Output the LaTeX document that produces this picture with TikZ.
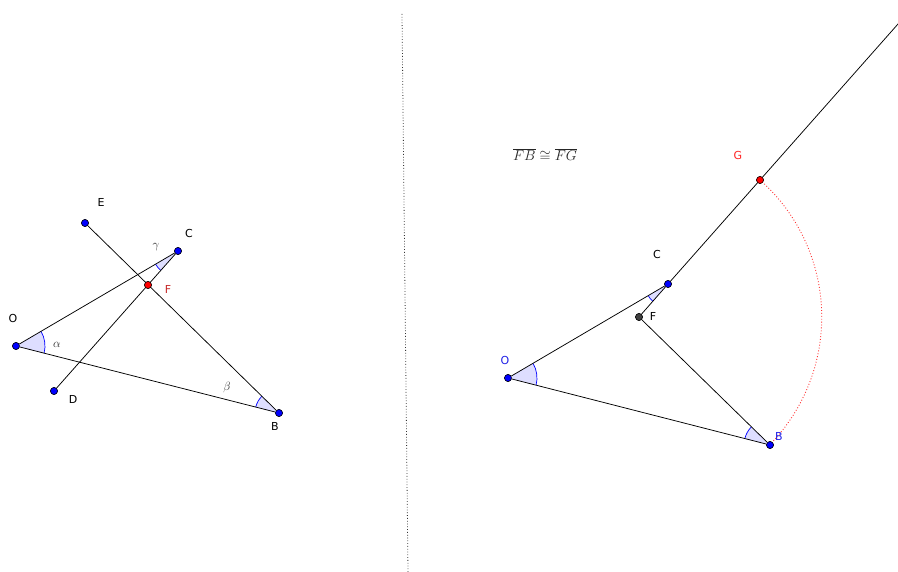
\documentclass[tikz,border=0pt]{standalone}
\usepackage{fontspec}
\newfontfamily\labelfont{DejaVu Sans}
\usepackage{tikz}
\usetikzlibrary{angles,calc}
\definecolor{ggblue}{HTML}{0000FF}
\definecolor{ggred}{HTML}{FF0000}
\definecolor{ggdark}{HTML}{404040}
\definecolor{lblred}{HTML}{C62828}
\definecolor{lblblue}{HTML}{1E1EE6}
\tikzset{
  bluept/.style={circle, draw=black, line width=0.5pt, fill=ggblue, inner sep=0pt, minimum size=7pt},
  redpt/.style={bluept, fill=ggred},
  darkpt/.style={bluept, fill=ggdark},
  seg/.style={draw=black, line width=0.75pt},
  lbl/.style={font=\labelfont\fontsize{11}{13}\selectfont, text=black, inner sep=0pt},
  greek/.style={font=\fontsize{13}{15}\selectfont, text=black!85, inner sep=0pt},
  anglemark/.style={draw=ggblue, fill=ggblue!13, line width=0.7pt},
  divider/.style={draw=black!80, dotted, line width=0.8pt},
  arcdot/.style={draw=ggred!80, dotted, line width=0.9pt},
}
\begin{document}
\begin{tikzpicture}[x=1pt,y=-1pt]
  \useasboundingbox (0,0) rectangle (898,572);
  \clip (0,0) rectangle (898,572);
  % divider
  \coordinate (divTop) at (402,14);
  \coordinate (divBot) at (408,572);
  \draw[divider] (divTop)--(divBot);
  % left figure: points
  \node[bluept] (oL) at (16,346) {};
  \node[bluept] (cL) at (178,251) {};
  \node[bluept] (bL) at (279,413) {};
  \node[bluept] (eL) at (85,223) {};
  \node[bluept] (dL) at (54,391) {};
  \node[redpt] (fL) at (148,285) {};
  % left figure: angles
  \pic[anglemark, angle radius=29pt] {angle=bL--oL--cL};
  \pic[anglemark, angle radius=24pt] {angle=fL--bL--oL};
  \pic[anglemark, angle radius=26pt] {angle=oL--cL--dL};
  % left figure: segments
  \foreach \a/\b in {oL/cL,oL/bL,eL/bL,dL/cL} \draw[seg] (\a)--(\b);
  \foreach \p in {oL,cL,bL,eL,dL} \node[bluept] at (\p) {};
  \node[redpt] at (fL) {};
  % left figure: labels
  \node[lbl] (oLlab) at (13,318) {O};
  \node[lbl] (cLlab) at (189,233) {C};
  \node[lbl] (eLlab) at (101,202) {E};
  \node[lbl] (dLlab) at (73,399) {D};
  \node[lbl] (bLlab) at (275,426) {B};
  \node[lbl, text=lblred] (fLlab) at (168,289) {F};
  \node[greek] (alab) at (57,345) {$\alpha$};
  \node[greek] (blab) at (227,388) {$\beta$};
  \node[greek] (glab) at (156,247) {$\gamma$};
  % right figure: points
  \node[bluept] (oR) at (508,378) {};
  \node[bluept] (cR) at (668,284) {};
  \node[darkpt] (fR) at (639,317) {};
  \node[bluept] (bR) at (770,445) {};
  \node[redpt] (gR) at (760,180) {};
  \coordinate (rayEnd) at ($(cR)!2.6!(gR)$);
  % right figure: angles
  \pic[anglemark, angle radius=29pt] {angle=bR--oR--cR};
  \pic[anglemark, angle radius=26pt] {angle=fR--bR--oR};
  \pic[anglemark, angle radius=23pt] {angle=oR--cR--fR};
  % right figure: arc FB = FG
  \draw[arcdot] (gR.center) arc[start angle=-48.5, end angle=44.3, radius=183];
  % right figure: segments
  \foreach \a/\b in {oR/cR,oR/bR,fR/bR,fR/cR,cR/gR} \draw[seg] (\a)--(\b);
  \draw[seg] (gR)--(rayEnd);
  \foreach \p in {oR,cR,bR} \node[bluept] at (\p) {};
  \node[darkpt] at (fR) {};
  \node[redpt] at (gR) {};
  % right figure: labels
  \node[lbl, text=lblblue] (oRlab) at (505,360) {O};
  \node[lbl] (cRlab) at (657,254) {C};
  \node[lbl] (fRlab) at (653,316) {F};
  \node[lbl, text=lblblue] (bRlab) at (779,436) {B};
  \node[lbl, text=ggred!85] (gRlab) at (738,155) {G};
  \node[font=\fontsize{14.5}{16}\selectfont, text=black!85] (eqlab) at (545,155) {$\overline{FB}\cong\overline{FG}$};
\end{tikzpicture}
\end{document}
